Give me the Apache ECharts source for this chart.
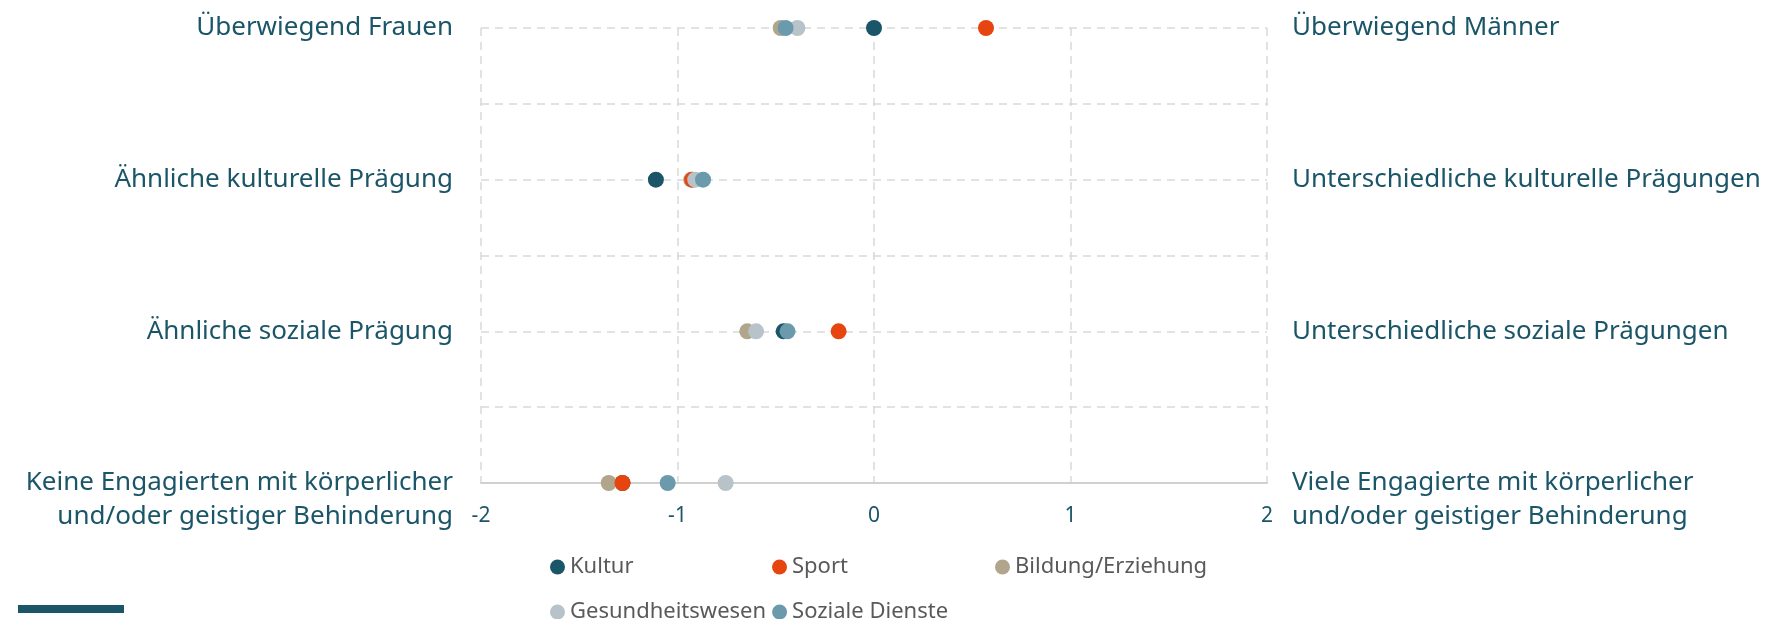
<!DOCTYPE html>
<html>
<head>
<meta charset="utf-8">
<script src="https://cdn.jsdelivr.net/npm/echarts@6/dist/echarts.min.js"></script>
<style>
  html, body { margin: 0; padding: 0; background: #fff; }
  #chart { width: 1777px; height: 619px; }
</style>
</head>
<body>
<div id="chart"></div>
<script>
// Zeilen von oben nach unten
const leftLabels = [
    'Überwiegend Frauen',
    'Ähnliche kulturelle Prägung',
    'Ähnliche soziale Prägung',
    'Keine Engagierten mit körperlicher\nund/oder geistiger Behinderung'
];
const rightLabels = [
    'Überwiegend Männer',
    'Unterschiedliche kulturelle Prägungen',
    'Unterschiedliche soziale Prägungen',
    'Viele Engagierte mit körperlicher\nund/oder geistiger Behinderung'
];
const rowY = [6, 4, 2, 0];

const xTicks = [-2, -1, 0, 1, 2];

// Werte je Bereich, Reihenfolge wie leftLabels
const kultur      = [0.00, -1.11, -0.46, -1.28];
const sport       = [0.57, -0.925, -0.18, -1.28];
const bildung     = [-0.475, -0.93, -0.645, -1.35];
const gesundheit  = [-0.39, -0.91, -0.60, -0.755];
const soziale     = [-0.45, -0.87, -0.44, -1.05];

const legendRow1 = ['Kultur', 'Sport', 'Bildung/Erziehung'];
const legendRow2 = ['Gesundheitswesen', 'Soziale Dienste'];
const legendCols = [545, 767, 990];   // Spalten der ersten Legendenzeile

const teal = '#1b5568';
const font = 'Noto Sans';

// Zeichenreihenfolge (spätere liegen oben)
const seriesDefs = [
    { name: 'Kultur', values: kultur, color: '#1b5568' },
    { name: 'Bildung/Erziehung', values: bildung, color: '#b1a68b' },
    { name: 'Sport', values: sport, color: '#e6450f' },
    { name: 'Gesundheitswesen', values: gesundheit, color: '#b8c2c9' },
    { name: 'Soziale Dienste', values: soziale, color: '#6a9aab' }
];

function labelFor(list, v) {
    const i = rowY.indexOf(v);
    if (i < 0) return '';
    // zweizeilige Beschriftung: erste Zeile auf Höhe der Punkte
    if (list[i].indexOf('\n') >= 0) return '\n' + list[i];
    return list[i];
}

const chart = echarts.init(document.getElementById('chart'));

const legendText = { fontFamily: font, fontSize: 22, color: '#595959' };

const legends = legendRow1.map((name, i) => ({
    data: [name],
    icon: 'circle',
    itemWidth: 15,
    itemHeight: 15,
    left: legendCols[i],
    top: 551,
    textStyle: legendText
}));
legends.push({
    data: legendRow2,
    icon: 'circle',
    itemWidth: 15,
    itemHeight: 15,
    left: legendCols[0],
    top: 596,
    itemGap: 6,
    textStyle: legendText
});

chart.setOption({
    animation: false,
    grid: { left: 481, right: 510, top: 28, bottom: 136 },
    legend: legends,
    xAxis: {
        type: 'value',
        min: -2,
        max: 2,
        interval: 1,
        axisLine: { show: true, lineStyle: { color: '#d0d0d0', width: 2 } },
        axisTick: { show: false },
        axisLabel: {
            margin: 23,
            fontFamily: font,
            fontSize: 21,
            color: teal,
            formatter: v => xTicks.indexOf(v) >= 0 ? String(v) : ''
        },
        splitLine: { show: true, lineStyle: { color: '#d9d9d9', type: [8, 6], width: 1.5 } }
    },
    yAxis: [
        {
            type: 'value',
            position: 'left',
            min: 0,
            max: 6,
            interval: 1,
            axisLine: { show: false },
            axisTick: { show: false },
            axisLabel: {
                margin: 28,
                fontFamily: font,
                fontSize: 26,
                lineHeight: 34,
                color: teal,
                align: 'right',
                formatter: v => labelFor(leftLabels, v)
            },
            splitLine: { show: true, lineStyle: { color: '#d9d9d9', type: [8, 6], width: 1.5 } }
        },
        {
            type: 'value',
            position: 'right',
            min: 0,
            max: 6,
            interval: 1,
            axisLine: { show: false },
            axisTick: { show: false },
            axisLabel: {
                margin: 25,
                fontFamily: font,
                fontSize: 26,
                lineHeight: 34,
                color: teal,
                align: 'left',
                formatter: v => labelFor(rightLabels, v)
            },
            splitLine: { show: false }
        }
    ],
    series: seriesDefs.map(s => ({
        name: s.name,
        type: 'scatter',
        symbol: 'circle',
        symbolSize: 16,
        itemStyle: { color: s.color, opacity: 1 },
        data: s.values.map((x, i) => [x, rowY[i]])
    })),
    graphic: [{
        type: 'rect',
        left: 18,
        top: 605,
        shape: { width: 106, height: 8 },
        style: { fill: teal }
    }]
});
</script>
</body>
</html>
